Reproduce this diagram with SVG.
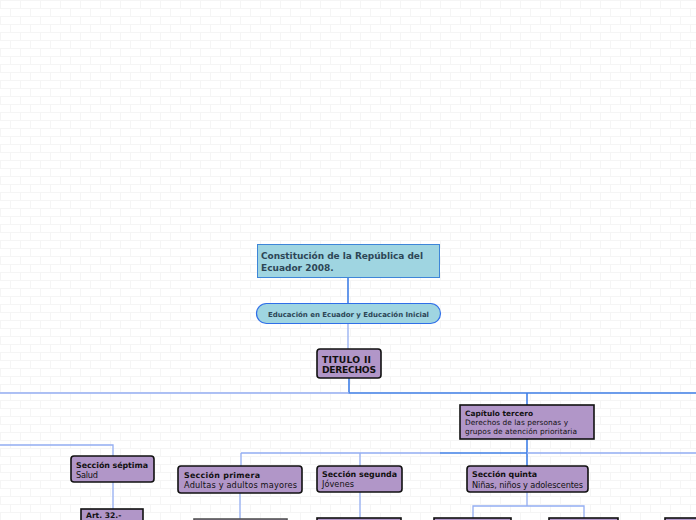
<svg xmlns="http://www.w3.org/2000/svg" width="696" height="520" viewBox="0 0 696 520">
<defs>
<pattern id="brick" width="40" height="16" patternUnits="userSpaceOnUse">
<rect width="40" height="16" fill="#ffffff"/>
<path d="M0 0.5H40M0 8.5H40M0.5 0V8M20.5 0V8M10.5 8V16M30.5 8V16" stroke="#f5f5f5" stroke-width="1" fill="none"/>
</pattern>
<style>
.bg{fill:url(#brick)}
.c1{fill:none;stroke:#3f7fe6;stroke-width:1.6}
.c2{fill:none;stroke:#93adf2;stroke-width:1.3}
.blue{fill:#9fd5e1;stroke:#3e86d8;stroke-width:1}
.pill{fill:#9fd5e1;stroke:#2f6fe8;stroke-width:1.2}
.pur{fill:#b196c8;stroke:#111;stroke-width:1.6}
.purg{fill:#b196c8;stroke:#555;stroke-width:1.6}
text{font-family:"DejaVu Sans","Verdana",sans-serif;fill:#111}
.b{font-weight:bold}
.rt{font-weight:bold;fill:#2d4656;font-size:9px}
.s{font-size:8.2px}
.sb{font-size:7.9px;font-weight:bold}
.cp{font-size:7.4px}
</style>
</defs>
<rect class="bg" x="0" y="0" width="696" height="520"/>
<g id="connectors">
<path class="c1" d="M348 278V303"/>
<path class="c2" d="M348 323V349"/>
<path class="c1" d="M349 378V393H696"/>
<path class="c2" d="M0 393H349"/>
<path class="c1" d="M527 393V405"/>
<path class="c1" d="M527 439V466"/>
<path class="c1" d="M440 453H527"/>
<path class="c2" d="M241 453H440M527 453H696"/>
<path class="c2" d="M241 453V466M360 453V466"/>
<path class="c2" d="M0 445H113V456M113 482V509"/>
<path class="c2" d="M240 493V519M360 492V518"/>
<path class="c2" d="M527 492V506M473 518V506H584V518"/>
</g>
<g id="n-root">
<rect class="blue" x="257.5" y="244.5" width="182" height="33"/>
<text class="rt" x="261" y="259" textLength="162">Constitución de la República del</text>
<text class="rt" x="261" y="271">Ecuador 2008.</text>
</g>
<g id="n-educacion">
<rect class="pill" x="256.5" y="303.5" width="184" height="20" rx="10"/>
<text x="268" y="316.5" class="b" style="font-size:7px;fill:#2d4656" textLength="161">Educación en Ecuador y Educación Inicial</text>
</g>
<g id="n-titulo">
<rect class="pur" x="317" y="349" width="64" height="29" rx="3"/>
<text class="b" x="322" y="363" style="font-size:9.2px" textLength="49">TITULO II</text>
<text class="b" x="322" y="373" style="font-size:9.2px" textLength="54">DERECHOS</text>
</g>
<g id="n-capitulo">
<rect class="pur" x="460" y="405" width="134" height="34"/>
<text class="b cp" x="465" y="416" textLength="68">Capítulo tercero</text>
<text class="cp" x="465" y="425" textLength="103">Derechos de las personas y</text>
<text class="cp" x="465" y="434" textLength="112">grupos de atención prioritaria</text>
</g>
<g id="n-septima">
<rect class="pur" x="71" y="456" width="83" height="26" rx="3"/>
<text class="sb" x="76" y="468" textLength="72">Sección séptima</text>
<text class="s" x="76" y="478" textLength="22">Salud</text>
</g>
<g id="n-art32">
<rect class="pur" x="81" y="509" width="62" height="20"/>
<text class="b" x="86" y="518" style="font-size:7.6px">Art. 32.-</text>
</g>
<g id="n-primera">
<rect class="pur" x="178" y="466" width="124" height="27" rx="3"/>
<text class="sb" x="184" y="478" textLength="76">Sección primera</text>
<text class="s" x="184" y="488" textLength="113">Adultas y adultos mayores</text>
</g>
<g id="n-primera-child">
<rect class="purg" x="194" y="519" width="93" height="10"/>
</g>
<g id="n-segunda">
<rect class="pur" x="317" y="466" width="85" height="26" rx="3"/>
<text class="sb" x="322" y="477" textLength="75">Sección segunda</text>
<text class="s" x="322" y="487" textLength="32">Jóvenes</text>
</g>
<g id="n-segunda-child">
<rect class="pur" x="317" y="518" width="84" height="10"/>
</g>
<g id="n-quinta">
<rect class="pur" x="467" y="466" width="121" height="26" rx="3"/>
<text class="sb" x="472" y="477" textLength="65">Sección quinta</text>
<text class="s" x="472" y="488" textLength="111">Niñas, niños y adolescentes</text>
</g>
<g id="n-quinta-child1">
<rect class="pur" x="434" y="518" width="77" height="10"/>
</g>
<g id="n-quinta-child2">
<rect class="pur" x="549" y="518" width="69" height="10"/>
</g>
<g id="n-right-child">
<rect class="pur" x="665" y="518" width="40" height="10"/>
</g>
</svg>
